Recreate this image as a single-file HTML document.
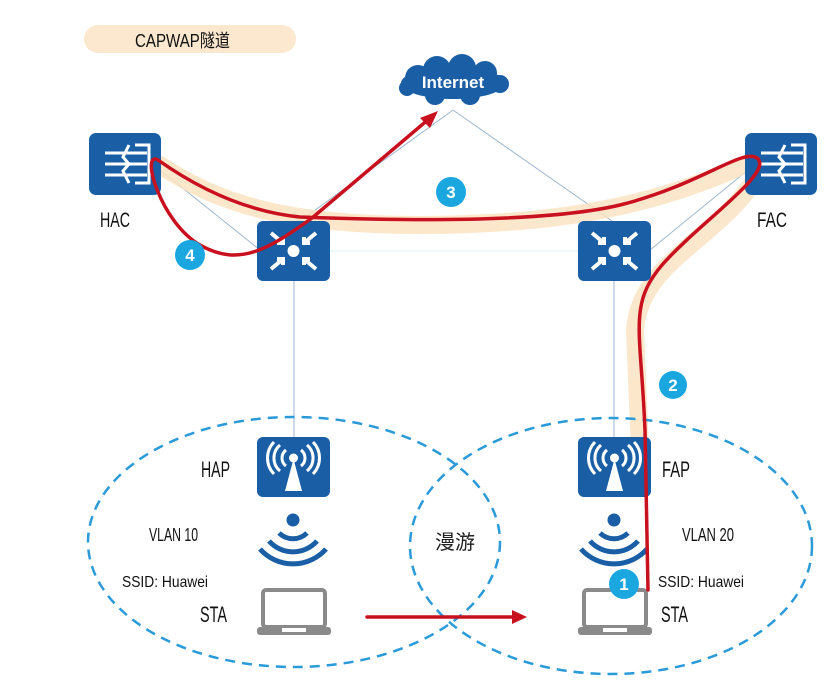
<!DOCTYPE html>
<html><head><meta charset="utf-8"><style>
html,body{margin:0;padding:0;background:#fff;}
svg{display:block}
.t{font-family:"Liberation Sans","Noto Sans CJK SC",sans-serif;fill:#111;}
.n{font-family:"Liberation Sans",sans-serif;fill:#fff;font-weight:bold;font-size:17px;text-anchor:middle;}
</style></head><body>
<svg width="839" height="682" viewBox="0 0 839 682" xmlns="http://www.w3.org/2000/svg">
<defs>
<g id="ac">
<rect x="0" y="0" width="72" height="62" rx="7" fill="#1a5fa6"/>
<g stroke="#fff" stroke-width="3" fill="none">
<path d="M46 12 H60 V50 H46"/>
<path d="M16 20 H58 M16 31 H58 M16 42 H58"/>
<path d="M40 12 L34 24 L40 31 L34 38 L40 50"/>
</g>
</g>
<g id="sw">
<rect x="0" y="0" width="73" height="60" rx="6" fill="#1a5fa6"/>
<circle cx="36.5" cy="30" r="6" fill="#fff"/>
<g stroke="#fff" stroke-width="4" fill="none">
<path d="M14 12 L26 22 M20 22 H26 V16"/>
<path d="M59 12 L47 22 M53 22 H47 V16"/>
<path d="M14 48 L26 38 M20 38 H26 V44"/>
<path d="M59 48 L47 38 M53 38 H47 V44"/>
</g>
</g>
<g id="ap">
<rect x="0" y="0" width="73" height="60" rx="6" fill="#1a5fa6"/>
<polygon points="36.5,22 28,54 45,54" fill="#fff"/>
<circle cx="36.5" cy="21" r="4.5" fill="#fff"/>
<g stroke="#fff" stroke-width="3" fill="none">
<path d="M29 13 A10 10 0 0 0 29 29 M44 13 A10 10 0 0 1 44 29"/>
<path d="M23 8 A17 17 0 0 0 23 34 M50 8 A17 17 0 0 1 50 34"/>
<path d="M17 5 A23 23 0 0 0 17 37 M56 5 A23 23 0 0 1 56 37"/>
</g>
</g>
<g id="wifi">
<circle cx="0" cy="0" r="6.5" fill="#1a5fa6"/>
<g stroke="#1a5fa6" stroke-width="5" fill="none">
<path d="M-14 13 A20 20 0 0 0 14 13"/>
<path d="M-24 21 A32 32 0 0 0 24 21"/>
<path d="M-33 29 A44 44 0 0 0 33 29"/>
</g>
</g>
<g id="lap">
<rect x="6" y="0" width="62" height="37" rx="3" fill="none" stroke="#8a8a8a" stroke-width="4"/>
<rect x="0" y="37" width="74" height="8" rx="3" fill="#8a8a8a"/>
<rect x="25" y="38" width="24" height="4" fill="#fff"/>
</g>
</defs>

<rect x="84" y="25" width="212" height="28" rx="14" fill="#fbe8cf"/>
<text class="t" x="135" y="47" font-size="18" textLength="95" lengthAdjust="spacingAndGlyphs">CAPWAP隧道</text>

<g stroke="#9db7cf" stroke-width="1" fill="none">
<path d="M453 110 L300 221 M453 110 L612 221"/>
<path d="M160 170 L260 250 M748 170 L650 250"/>
<path d="M294 281 V437 M614 281 V437"/>
</g>
<line x1="330" y1="251" x2="578" y2="251" stroke="#dff0f6" stroke-width="1"/>

<g fill="#1a5fa6">
<ellipse cx="453" cy="83" rx="52" ry="16"/>
<circle cx="418" cy="78" r="13"/><circle cx="437" cy="70" r="14"/><circle cx="462" cy="68" r="14"/><circle cx="485" cy="73" r="12"/><circle cx="500" cy="84" r="9"/><circle cx="407" cy="88" r="8"/><circle cx="435" cy="95" r="10"/><circle cx="470" cy="95" r="10"/>
</g>
<text x="453" y="88" font-family="Liberation Sans,sans-serif" font-weight="bold" font-size="17" fill="#fff" text-anchor="middle">Internet</text>

<g stroke="#fbe3c2" stroke-width="18" fill="none" opacity="0.85" stroke-linecap="round">
<path d="M160 165 C220 205 290 225 420 225 C560 225 660 205 755 160"/>
<path d="M760 172 C720 240 640 260 635 330 L640 450"/>
</g>

<use href="#ac" x="89" y="133"/>
<use href="#ac" x="745" y="133"/>
<use href="#sw" x="257" y="221"/>
<use href="#sw" x="578" y="221"/>
<use href="#ap" x="257" y="437"/>
<use href="#ap" x="578" y="437"/>
<use href="#wifi" x="293" y="520"/>
<use href="#wifi" x="614" y="520"/>
<use href="#lap" x="257" y="590"/>
<use href="#lap" x="578" y="590"/>

<g stroke="#2a9ad8" stroke-width="2.5" fill="none" stroke-dasharray="10 7">
<ellipse cx="294" cy="542" rx="206" ry="125"/>
<ellipse cx="611" cy="546" rx="201" ry="128"/>
</g>

<g stroke="#c8101e" stroke-width="3.5" fill="none" stroke-linecap="round">
<path d="M648 590 L645 430 C641 330 628 305 662 265 C700 222 775 172 757 158 C742 148 700 185 620 205 C540 224 380 220 300 217 C230 210 175 172 158 160 C140 150 160 222 200 245 C240 268 270 248 312 218 L430 118"/>
<path d="M367 617 H515"/>
</g>
<polygon points="438,111 420,118 430,128" fill="#c8101e"/>
<polygon points="527,617 512,610 512,624" fill="#c8101e"/>

<g fill="#1aa7e0">
<circle cx="451" cy="192" r="15"/><circle cx="190" cy="255" r="15"/><circle cx="673" cy="385" r="14"/><circle cx="624" cy="584" r="15"/>
</g>
<text class="n" x="451" y="198">3</text>
<text class="n" x="190" y="261">4</text>
<text class="n" x="673" y="391">2</text>
<text class="n" x="624" y="590">1</text>

<text class="t" x="100" y="227" font-size="21" textLength="30" lengthAdjust="spacingAndGlyphs">HAC</text>
<text class="t" x="757" y="227" font-size="21" textLength="30" lengthAdjust="spacingAndGlyphs">FAC</text>
<text class="t" x="201" y="477" font-size="22" textLength="29" lengthAdjust="spacingAndGlyphs">HAP</text>
<text class="t" x="662" y="477" font-size="22" textLength="28" lengthAdjust="spacingAndGlyphs">FAP</text>
<text class="t" x="149" y="541" font-size="18" textLength="49" lengthAdjust="spacingAndGlyphs">VLAN 10</text>
<text class="t" x="682" y="541" font-size="18" textLength="52" lengthAdjust="spacingAndGlyphs">VLAN 20</text>
<text class="t" x="122" y="587" font-size="16" textLength="86" lengthAdjust="spacingAndGlyphs">SSID: Huawei</text>
<text class="t" x="658" y="587" font-size="16" textLength="86" lengthAdjust="spacingAndGlyphs">SSID: Huawei</text>
<text class="t" x="200" y="622" font-size="22" textLength="27" lengthAdjust="spacingAndGlyphs">STA</text>
<text class="t" x="661" y="622" font-size="22" textLength="27" lengthAdjust="spacingAndGlyphs">STA</text>
<text x="455" y="549" font-family="Noto Sans CJK SC,sans-serif" font-size="20" fill="#222" text-anchor="middle">漫游</text>
</svg>
</body></html>
